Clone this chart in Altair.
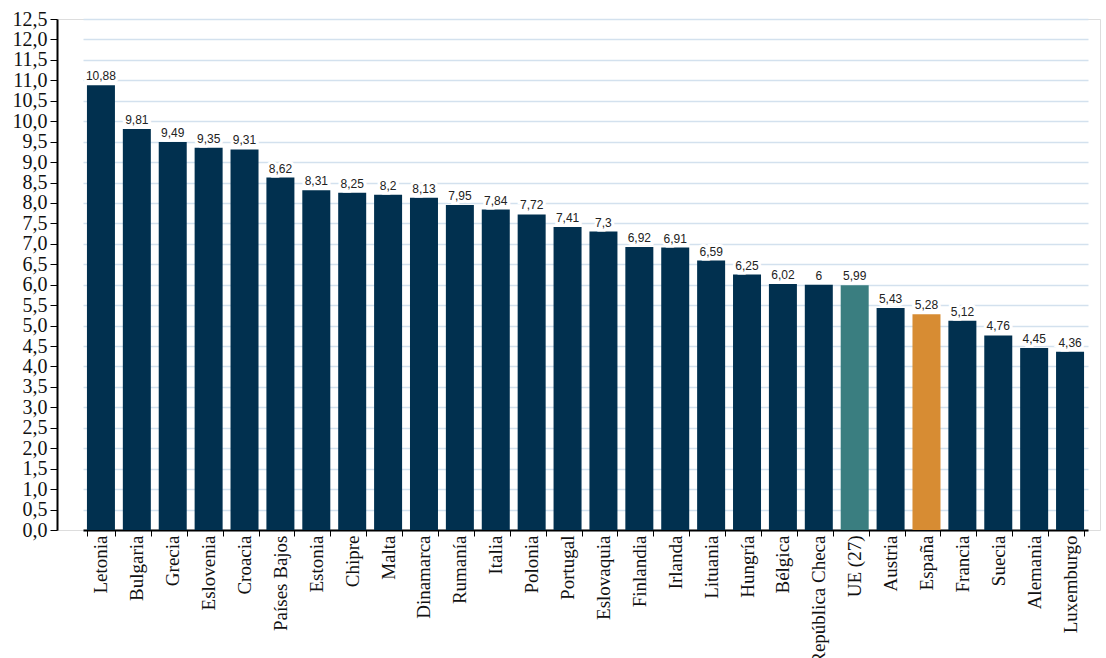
import altair as alt
import pandas as pd

countries = ["Letonia", "Bulgaria", "Grecia", "Eslovenia", "Croacia", "Países Bajos",
             "Estonia", "Chipre", "Malta", "Dinamarca", "Rumanía", "Italia", "Polonia",
             "Portugal", "Eslovaquia", "Finlandia", "Irlanda", "Lituania", "Hungría",
             "Bélgica", "República Checa", "UE (27)", "Austria", "España", "Francia",
             "Suecia", "Alemania", "Luxemburgo"]
values = [10.88, 9.81, 9.49, 9.35, 9.31, 8.62, 8.31, 8.25, 8.2, 8.13, 7.95, 7.84, 7.72,
          7.41, 7.3, 6.92, 6.91, 6.59, 6.25, 6.02, 6, 5.99, 5.43, 5.28, 5.12, 4.76,
          4.45, 4.36]
value_labels = [str(v).replace(".", ",") for v in values]
y_ticks = [i * 0.5 for i in range(26)]
highlight = {"UE (27)": "ue", "España": "es"}
groups = [highlight.get(c, "other") for c in countries]

df = pd.DataFrame({"pais": countries, "valor": values, "etiqueta": value_labels,
                   "grupo": groups})

W, H = 1043, 511

x_enc = alt.X("pais:N", sort=countries, title=None,
              scale=alt.Scale(range=[26, 1031], paddingInner=0.22, paddingOuter=0.11),
              axis=alt.Axis(labelAngle=-90, labelFont="Liberation Serif", labelFontSize=19,
                            labelColor="#111111", tickBand="extent", tickColor="#000000",
                            tickSize=6, domainColor="#000000", domainWidth=2,
                            labelPadding=-1, grid=False, labelAlign="right",
                            labelBaseline="middle", labelLimit=0))
y_enc = alt.Y("valor:Q", scale=alt.Scale(domain=[0, 12.5], nice=False, zero=True),
              title=None,
              axis=alt.Axis(values=y_ticks, tickCount=26,
                            labelExpr="replace(format(datum.value, '.1f'), '.', ',')",
                            labelFont="Liberation Serif", labelFontSize=20,
                            labelColor="#111111", tickColor="#000000", tickSize=7,
                            domainColor="#000000", domainWidth=2, labelPadding=3,
                            labelOverlap=False, labelBound=False,
                            gridColor="#d3e1ee", gridWidth=1.5))

base = alt.Chart(df).encode(x=x_enc, y=y_enc)

bars = base.mark_bar().encode(
    color=alt.Color("grupo:N", scale=alt.Scale(domain=["other", "ue", "es"],
                                                range=["#01304f", "#3a7e80", "#d78c33"]),
                    legend=None),
)

bg = base.mark_text(baseline="alphabetic", dy=-5, font="Liberation Sans",
                    fontSize=12, color="white", stroke="white",
                    strokeWidth=6).encode(text="etiqueta:N")

txt = base.mark_text(baseline="alphabetic", dy=-5, font="Liberation Sans",
                     fontSize=12, color="#222222").encode(text="etiqueta:N")

chart = alt.layer(bars, bg, txt).properties(
    width=W, height=H,
    autosize=alt.AutoSizeParams(type="none"),
    padding={"left": 57, "top": 19, "right": 6, "bottom": 128},
).configure_view(stroke=None).configure(background="white")

chart.save("out.html", embed_options={"renderer": "svg", "actions": False})
